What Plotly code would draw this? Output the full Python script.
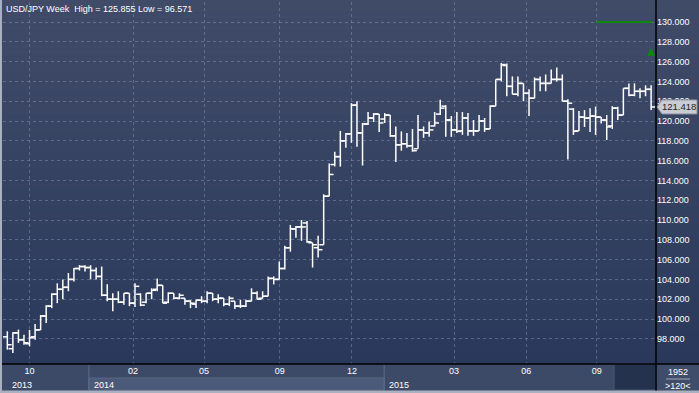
import plotly.graph_objects as go

symbol = "USD/JPY"
period = "Week"

opens = [98.2, 97.0, 98.6, 97.9, 97.5, 98.2, 98.9, 100.3, 101.3, 102.5,
         103.0, 103.2, 104.0, 105.1, 105.3, 105.2, 104.9, 104.3, 102.4, 102.0,
         102.0, 101.7, 102.6, 101.6, 102.5, 101.7, 102.6, 103.0, 103.4, 101.7,
         102.6, 102.1, 102.1, 101.8, 101.5, 101.9, 101.8, 102.6, 102.0, 102.1,
         101.5, 101.8, 101.3, 101.3, 101.8, 102.6, 102.1, 102.3, 104.1, 104.0,
         105.1, 107.2, 109.1, 109.3, 109.7, 107.7, 107.2, 107.5, 112.4, 115.6,
         116.4, 118.0, 118.7, 121.6, 118.8, 119.7, 120.3, 120.7, 120.2, 120.6,
         118.5, 117.6, 117.7, 117.5, 117.2, 119.1, 118.8, 119.5, 120.7, 121.5,
         120.1, 119.1, 119.0, 120.3, 119.0, 119.0, 120.0, 119.2, 121.5, 124.2,
         125.6, 123.5, 122.7, 123.8, 122.8, 122.3, 124.2, 123.8, 123.8, 124.2,
         124.2, 122.0, 121.2, 119.0, 120.4, 120.3, 120.5, 120.4, 120.1, 119.5,
         121.3, 120.6, 123.3, 122.6, 123.0, 123.0, 123.2]
highs = [98.76, 98.66, 98.93, 98.4, 98.9, 99.5, 100.4, 101.4, 102.6, 103.6,
         104.0, 104.65, 105.16, 105.44, 105.44, 105.44, 105.2, 105.3, 103.5, 102.6,
         102.8, 102.6, 102.6, 103.6, 102.6, 102.6, 103.1, 104.1, 103.4, 102.7,
         102.6, 102.6, 102.1, 101.9, 101.95, 102.3, 102.8, 102.6, 102.5, 102.1,
         102.3, 101.8, 101.95, 101.95, 103.1, 102.8, 102.8, 104.3, 104.3, 105.8,
         107.4, 109.5, 109.4, 110.0, 109.9, 107.7, 108.4, 112.6, 115.7, 116.9,
         119.0, 118.8, 121.8, 122.0, 119.8, 120.9, 120.8, 120.7, 120.8, 120.6,
         119.45, 118.95, 118.8, 119.2, 120.6, 119.45, 119.96, 120.9, 122.15, 121.6,
         120.5, 120.9, 120.9, 120.8, 120.1, 120.6, 120.3, 121.6, 124.2, 125.855,
         125.8, 124.5, 124.5, 123.8, 123.2, 124.4, 124.5, 124.7, 125.2, 125.4,
         124.7, 122.2, 121.3, 121.0, 121.1, 121.3, 121.45, 120.4, 120.6, 121.5,
         121.45, 123.3, 123.8, 123.8, 123.3, 123.6, 123.6]
lows = [96.91, 96.571, 97.58, 97.4, 97.25, 97.9, 98.9, 99.6, 101.1, 101.6,
        102.0, 102.8, 103.8, 104.9, 104.8, 104.0, 104.0, 102.3, 101.8, 100.78,
        101.6, 101.45, 101.3, 101.2, 101.3, 101.6, 102.0, 102.8, 101.6, 101.6,
        102.0, 102.0, 101.45, 101.1, 101.1, 101.6, 101.6, 101.8, 101.6, 101.3,
        101.3, 101.0, 101.1, 101.2, 101.8, 102.0, 102.1, 102.3, 103.5, 104.0,
        105.0, 106.8, 108.2, 107.9, 107.7, 105.2, 106.2, 107.5, 112.4, 115.4,
        115.4, 117.3, 117.8, 117.4, 115.5, 119.6, 119.9, 118.9, 119.8, 118.4,
        115.85, 117.0, 117.3, 116.9, 117.2, 118.3, 118.4, 119.45, 120.6, 118.4,
        118.4, 118.8, 118.6, 118.5, 118.5, 119.0, 118.9, 119.2, 121.5, 124.0,
        122.5, 122.7, 122.5, 122.0, 120.5, 122.3, 123.0, 123.0, 123.8, 124.0,
        122.0, 116.1, 118.6, 119.0, 119.4, 118.9, 118.6, 119.76, 118.08, 119.2,
        120.1, 120.6, 122.5, 122.5, 122.3, 122.5, 121.1]
closes = [97.4, 98.6, 97.9, 97.6, 98.1, 98.9, 100.3, 101.3, 102.5, 103.0,
          103.2, 104.0, 105.1, 105.3, 105.2, 104.9, 104.3, 102.4, 102.0, 102.0,
          101.7, 102.6, 101.6, 103.3, 101.4, 102.6, 102.9, 103.4, 101.6, 102.6,
          102.1, 102.4, 101.8, 101.6, 101.9, 101.8, 102.6, 102.0, 102.1, 101.5,
          102.1, 101.3, 101.3, 101.8, 102.6, 102.0, 102.3, 104.1, 104.0, 105.1,
          107.2, 109.1, 109.3, 109.3, 107.8, 107.5, 107.0, 112.4, 114.6, 116.4,
          118.0, 118.7, 121.6, 118.8, 119.7, 120.3, 120.7, 119.8, 120.6, 118.5,
          117.6, 117.7, 117.5, 117.0, 119.1, 118.8, 119.1, 119.8, 121.3, 120.1,
          119.1, 118.95, 120.3, 119.0, 119.0, 120.0, 119.2, 121.5, 124.2, 125.7,
          123.5, 122.7, 123.8, 122.8, 122.3, 124.2, 123.8, 123.8, 124.2, 124.2,
          122.0, 121.8, 118.96, 120.4, 120.3, 120.5, 120.4, 120.1, 119.4, 121.3,
          120.6, 123.3, 122.6, 123.0, 123.0, 123.2, 121.418]

month_tick_pos = [4.0, 22.65, 35.45, 49.1, 62.1, 80.5, 93.5, 106.2]
month_tick_labels = ["10", "02", "05", "09", "12", "03", "06", "09"]
year_labels = ["2013", "2014", "2015"]
year_label_pos = [0.5, 15.3, 68.4]
year_bounds = [14.7, 67.9]
y_ticks = [98, 100, 102, 104, 106, 108, 110, 112, 114, 116, 118, 120, 122, 124, 126, 128, 130]
alert_level = 130.0
alert_span = [106.1, 116.2]
arrow_level = 127.4
bar_count_text = "1952"
zoom_text = "&gt;120&lt;"

# ---- geometry (pixels) ----
W, H = 699, 393
ML, MR, MT, MB = 3, 43, 2, 29
PW, PH = W - ML - MR, H - MT - MB
XR = [-0.78, 116.88]
YR = [95.455, 132.02]

def px_x(px):
    return (px - ML) / PW

def px_y(py):
    return 1 - (py - MT) / PH

def idx_x(i):
    return (i - XR[0]) / (XR[1] - XR[0])

FONT = "Liberation Sans, Arial, sans-serif"

# OHLC bars as line segments built from the data
w = 0.78
xs, ys = [], []
for i, (o, h, l, c) in enumerate(zip(opens, highs, lows, closes)):
    xs += [i - w, i, None, i, i, None, i, i + w, None]
    ys += [o, o, None, l, h, None, c, c, None]

fig = go.Figure()
fig.add_trace(go.Scatter(x=xs, y=ys, mode="lines",
                         line=dict(color="#ffffff", width=1.5),
                         hoverinfo="skip", showlegend=False))

shapes = []
# gradient background (plot + right panel)
top = (64, 75, 104)
bot = (42, 57, 91)
N = 60
for k in range(N):
    t = k / (N - 1)
    col = tuple(round(top[j] + (bot[j] - top[j]) * t) for j in range(3))
    y0p = k * 364 / N
    y1p = (k + 1) * 364 / N + 0.5
    shapes.append(dict(type="rect", xref="paper", yref="paper",
                       x0=px_x(0), x1=px_x(W), y0=px_y(min(y1p, 364)), y1=px_y(y0p),
                       fillcolor="rgb(%d,%d,%d)" % col, line_width=0, layer="below"))
# axis bar
shapes.append(dict(type="rect", xref="paper", yref="paper", x0=px_x(0), x1=px_x(W),
                   y0=px_y(H), y1=px_y(364), fillcolor="#3c4a68", line_width=0, layer="below"))
shapes.append(dict(type="rect", xref="paper", yref="paper",
                   x0=idx_x(year_bounds[0]), x1=idx_x(year_bounds[1]),
                   y0=px_y(390), y1=px_y(378), fillcolor="#4b5a78",
                   line=dict(color="#56657f", width=1), layer="below"))
for b in year_bounds:
    shapes.append(dict(type="line", xref="paper", yref="paper", x0=idx_x(b), x1=idx_x(b),
                       y0=px_y(390), y1=px_y(364), line=dict(color="#5d6c88", width=1), layer="below"))
# dark box on axis bar
shapes.append(dict(type="rect", xref="paper", yref="paper", x0=px_x(614), x1=px_x(656),
                   y0=px_y(390), y1=px_y(364), fillcolor="#25324d",
                   line=dict(color="#4a5877", width=1), layer="below"))
# right panel bottom
shapes.append(dict(type="rect", xref="paper", yref="paper", x0=px_x(656), x1=px_x(W),
                   y0=px_y(390), y1=px_y(364), fillcolor="#3f4d6b", line_width=0, layer="below"))
shapes.append(dict(type="line", xref="paper", yref="paper", x0=px_x(666), x1=px_x(690),
                   y0=px_y(379), y1=px_y(379), line=dict(color="#a0a8b8", width=1)))
# frame edges
shapes.append(dict(type="rect", xref="paper", yref="paper", x0=px_x(0), x1=px_x(2),
                   y0=px_y(H), y1=px_y(0), fillcolor="#a9b1c1", line_width=0))
shapes.append(dict(type="rect", xref="paper", yref="paper", x0=px_x(0), x1=px_x(W),
                   y0=px_y(H), y1=px_y(390.5), fillcolor="#a9b1c1", line_width=0))
# black separators
shapes.append(dict(type="line", xref="paper", yref="paper", x0=px_x(2), x1=px_x(W),
                   y0=0, y1=0, line=dict(color="#000000", width=1.5)))
shapes.append(dict(type="line", xref="paper", yref="paper", x0=1, x1=1,
                   y0=px_y(390.5), y1=px_y(0), line=dict(color="#000000", width=1.5)))
# alert line
shapes.append(dict(type="line", xref="x", yref="y", x0=alert_span[0], x1=alert_span[1],
                   y0=alert_level, y1=alert_level, line=dict(color="#0b8a0b", width=2)))
# last price box
last = closes[-1]
hh = 7 / (PH / (YR[1] - YR[0]))
path = "M %f,%f L %f,%f L %f,%f L %f,%f L %f,%f Z" % (
    px_x(657), last, px_x(662), last + hh, px_x(697), last + hh,
    px_x(697), last - hh, px_x(662), last - hh)
shapes.append(dict(type="path", xref="paper", yref="y", path=path,
                   fillcolor="#c9ccd3", line=dict(color="#8d939f", width=1), layer="above"))

annotations = [
    dict(xref="paper", yref="paper", x=px_x(4), y=px_y(9), xanchor="left", yanchor="middle",
         text="%s %s\u00a0 High = %.3f Low = %.3f" % (symbol, period, max(highs), min(lows)),
         showarrow=False, font=dict(family=FONT, size=9, color="#ffffff")),
    dict(xref="paper", yref="y", x=px_x(679), y=last, xanchor="center", yanchor="middle",
         text="%.3f" % last, showarrow=False, font=dict(family=FONT, size=9.5, color="#1e1e1e")),
    dict(xref="x", yref="y", x=len(closes) - 1, y=arrow_level, text="", showarrow=True,
         arrowhead=2, arrowsize=0.8, arrowwidth=2, arrowcolor="#0b8a0b", ax=0, ay=9),
    dict(xref="paper", yref="paper", x=px_x(678), y=px_y(372), xanchor="center",
         text=bar_count_text, showarrow=False,
         font=dict(family=FONT, size=9, color="#ffffff"), yanchor="middle"),
    dict(xref="paper", yref="paper", x=px_x(678), y=px_y(386), xanchor="center",
         text=zoom_text, showarrow=False,
         font=dict(family=FONT, size=9, color="#ffffff"), yanchor="middle"),
]
for lab, pos in zip(year_labels, year_label_pos):
    annotations.append(dict(xref="paper", yref="paper", x=idx_x(pos), y=px_y(384.5),
                            xanchor="left", yanchor="middle", text=lab, showarrow=False,
                            font=dict(family=FONT, size=9, color="#ffffff")))

grid_col = "rgba(125,140,172,0.55)"
fig.update_layout(
    width=W, height=H, margin=dict(l=ML, r=MR, t=MT, b=MB, autoexpand=False),
    paper_bgcolor="#3c4a68", plot_bgcolor="rgba(0,0,0,0)",
    showlegend=False, hovermode=False,
    shapes=shapes, annotations=annotations,
    xaxis=dict(range=XR, tickvals=month_tick_pos, ticktext=month_tick_labels,
               showgrid=True, gridcolor=grid_col, griddash="3px,3px", gridwidth=1,
               zeroline=False, showline=False, ticks="", automargin=False,
               tickfont=dict(family=FONT, size=9, color="#ffffff"), fixedrange=True),
    yaxis=dict(range=YR, side="right", tickvals=y_ticks, tickformat=".3f",
               showgrid=True, gridcolor=grid_col, griddash="3px,3px", gridwidth=1,
               zeroline=False, showline=False, ticks="", automargin=False,
               tickfont=dict(family=FONT, size=9, color="#ffffff"), fixedrange=True),
)

fig.write_html("out.html", config={"displayModeBar": False},
               post_script="document.body.style.margin='0';document.body.style.overflow='hidden';"
                           "document.documentElement.style.overflow='hidden';")
